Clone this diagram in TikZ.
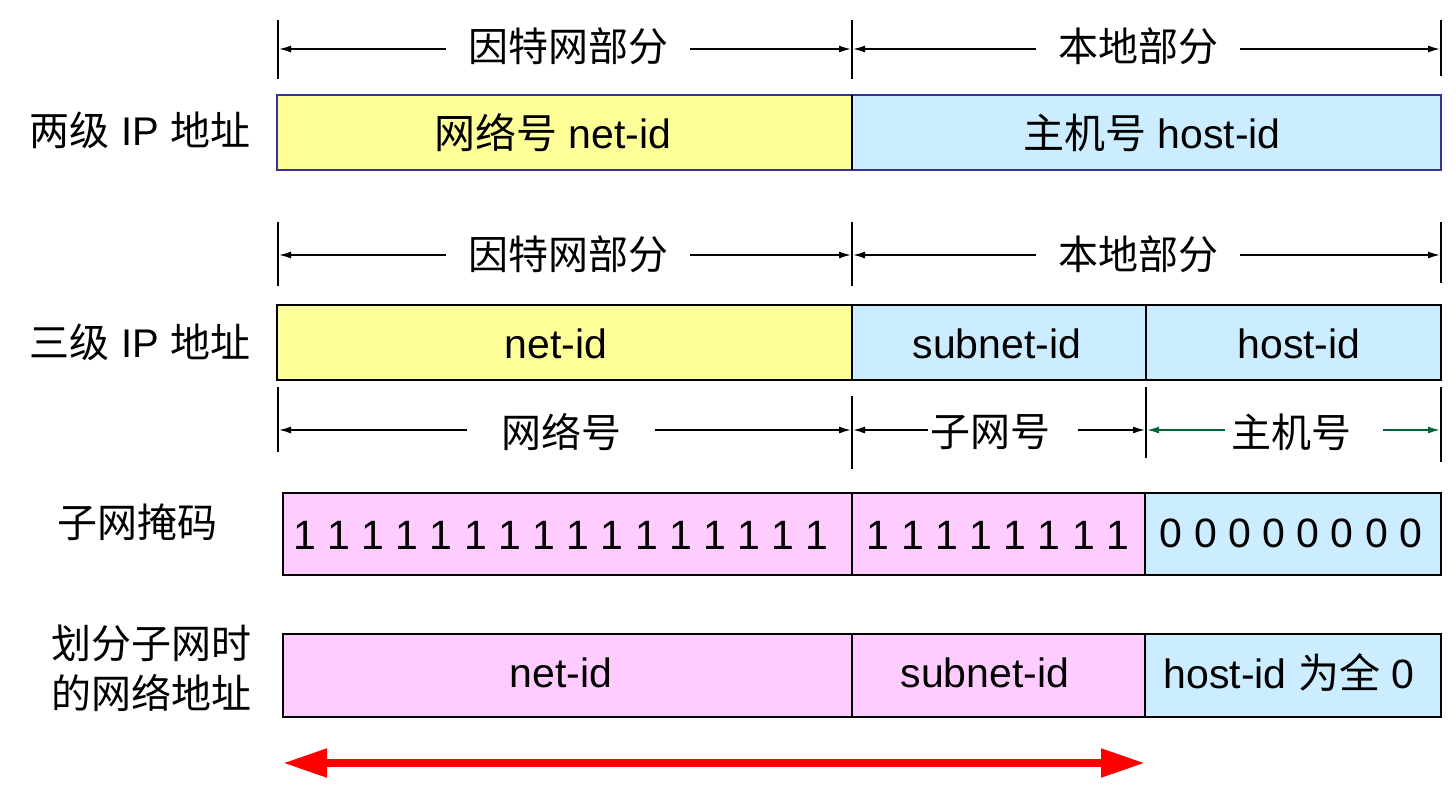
\documentclass[tikz,border=0pt]{standalone}
\usepackage{fontspec}
\setmainfont{Liberation Sans}
\newfontfamily\cjk{Noto Sans CJK SC}
\definecolor{NetPart}{HTML}{FFFF99}
\definecolor{HostPart}{HTML}{CCECFF}
\definecolor{MaskPart}{HTML}{FFCCFF}
\definecolor{FrameBlue}{HTML}{333399}
\definecolor{HostArrow}{HTML}{006633}
\usetikzlibrary{arrows.meta, calc}
\tikzset{
    field/.style={draw=black, line width=1pt},
    field text/.style={font=\fontsize{20.5pt}{24pt}\selectfont, inner sep=0pt},
    row label/.style={font=\fontsize{20pt}{25pt}\selectfont, inner sep=0pt, align=center},
    dim text/.style={font=\fontsize{20pt}{24pt}\selectfont\cjk, inner xsep=11pt, inner ysep=0pt},
    dim tick/.style={line width=1pt},
    dim arrow/.style={line width=0.8pt, -{Latex[length=6pt, width=3.5pt]}},
    span arrow/.style={
        draw=red, line width=4pt,
        {Triangle[length=22pt, width=13.5pt]}-{Triangle[length=22pt, width=13.5pt]}
    }
}

\begin{document}
\begin{tikzpicture}[x=0.5pt, y=-0.5pt]
\useasboundingbox (0,0) rectangle (1456,805);

% 两级 IP 地址
\draw[dim tick] (278,20) -- (278,79);
\draw[dim tick] (852,20) -- (852,79);
\draw[dim tick] (1441,20) -- (1441,76);
\coordinate (OneA) at (279,49);
\coordinate (OneB) at (851,49);
\coordinate (OneC) at (853,49);
\coordinate (OneD) at (1440,49);
\node[dim text] (InetOne) at (568,46) {因特网部分};
\node[dim text] (LocalOne) at (1138,46) {本地部分};
\draw[dim arrow] (InetOne.west |- OneA) -- (OneA);
\draw[dim arrow] (InetOne.east |- OneB) -- (OneB);
\draw[dim arrow] (LocalOne.west |- OneC) -- (OneC);
\draw[dim arrow] (LocalOne.east |- OneD) -- (OneD);

\draw[field, draw=FrameBlue, fill=NetPart] (277,95) rectangle (852,170);
\draw[field, draw=FrameBlue, fill=HostPart] (852,95) rectangle (1441,170);
\draw[line width=1pt] (852,95) -- (852,170);
\node[field text] (NetIdOne) at (553,133) {{\cjk 网络号} net-id};
\node[field text] (HostIdOne) at (1152,133) {{\cjk 主机号} host-id};
\node[row label] (LabelOne) at (140,130) {{\cjk 两级} IP {\cjk 地址}};

% 三级 IP 地址
\draw[dim tick] (278,222) -- (278,286);
\draw[dim tick] (852,222) -- (852,286);
\draw[dim tick] (1441,222) -- (1441,283);
\coordinate (TwoA) at (279,255);
\coordinate (TwoB) at (851,255);
\coordinate (TwoC) at (853,255);
\coordinate (TwoD) at (1440,255);
\node[dim text] (InetTwo) at (568,254) {因特网部分};
\node[dim text] (LocalTwo) at (1138,254) {本地部分};
\draw[dim arrow] (InetTwo.west |- TwoA) -- (TwoA);
\draw[dim arrow] (InetTwo.east |- TwoB) -- (TwoB);
\draw[dim arrow] (LocalTwo.west |- TwoC) -- (TwoC);
\draw[dim arrow] (LocalTwo.east |- TwoD) -- (TwoD);

\draw[field, fill=NetPart] (277,305) rectangle (852,380);
\draw[field, fill=HostPart] (852,305) rectangle (1146,380);
\draw[field, fill=HostPart] (1146,305) rectangle (1441,380);
\node[field text] (NetIdTwo) at (556,344) {net-id};
\node[field text] (SubnetIdTwo) at (997,344) {subnet-id};
\node[field text] (HostIdTwo) at (1299,344) {host-id};
\node[row label] (LabelTwo) at (140,342) {{\cjk 三级} IP {\cjk 地址}};

% 网络号、子网号、主机号
\draw[dim tick] (278,387) -- (278,452);
\draw[dim tick] (852,396) -- (852,469);
\draw[dim tick] (1146,387) -- (1146,458);
\draw[dim tick] (1441,387) -- (1441,462);
\coordinate (ThreeA) at (279,430);
\coordinate (ThreeB) at (851,430);
\coordinate (ThreeC) at (853,430);
\coordinate (ThreeD) at (1145,430);
\coordinate (ThreeE) at (1147,430);
\coordinate (ThreeF) at (1440,430);
\node[dim text, inner xsep=17pt] (NetNo) at (561,432) {网络号};
\node[dim text, inner xsep=1pt] (SubnetNo) at (990,432) {子网号};
\node[dim text, inner xsep=3pt] (HostNo) at (1291,432) {主机号};
\draw[dim arrow] (NetNo.west |- ThreeA) -- (ThreeA);
\draw[dim arrow] (NetNo.east |- ThreeB) -- (ThreeB);
\draw[dim arrow] (SubnetNo.west |- ThreeC) -- (ThreeC);
\draw[dim arrow, shorten <=13pt] (SubnetNo.east |- ThreeD) -- (ThreeD);
\draw[dim arrow, HostArrow] (HostNo.west |- ThreeE) -- (ThreeE);
\draw[dim arrow, HostArrow, shorten <=13pt] (HostNo.east |- ThreeF) -- (ThreeF);

% 子网掩码
\draw[field, fill=MaskPart] (283,493) rectangle (852,575);
\draw[field, fill=MaskPart] (852,493) rectangle (1145,575);
\draw[field, fill=HostPart] (1145,493) rectangle (1441,575);
\node[field text] (MaskNet) at (561,535) {1 1 1 1 1 1 1 1 1 1 1 1 1 1 1 1};
\node[field text] (MaskSubnet) at (998,535) {1 1 1 1 1 1 1 1};
\node[field text] (MaskHost) at (1291,533) {0 0 0 0 0 0 0 0};
\node[row label] (LabelMask) at (137,522) {\cjk 子网掩码};

% 划分子网时的网络地址
\draw[field, fill=MaskPart] (283,634) rectangle (852,717);
\draw[field, fill=MaskPart] (852,634) rectangle (1145,717);
\draw[field, fill=HostPart] (1145,634) rectangle (1441,717);
\node[field text] (NetIdFour) at (561,673) {net-id};
\node[field text] (SubnetIdFour) at (985,673) {subnet-id};
\node[field text] (HostIdFour) at (1289,673) {host-id {\cjk 为全} 0};
\node[row label] (LabelFour) at (151,668) {\cjk 划分子网时\\\cjk 的网络地址};

% 网络地址覆盖范围
\coordinate (SpanLeft) at (283,763);
\coordinate (SpanRight) at (1145,763);
\draw[span arrow] (SpanLeft) -- (SpanRight);

\end{tikzpicture}
\end{document}
